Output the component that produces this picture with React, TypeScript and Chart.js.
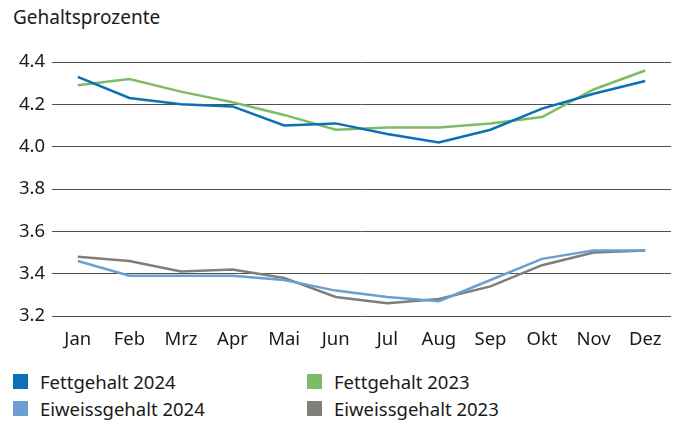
import React, { useEffect, useRef } from "react";
import { Chart, registerables } from "chart.js";

Chart.register(...registerables);

const months = ["Jan", "Feb", "Mrz", "Apr", "Mai", "Jun", "Jul", "Aug", "Sep", "Okt", "Nov", "Dez"];
const fett2024 = [4.33, 4.23, 4.2, 4.19, 4.1, 4.11, 4.06, 4.02, 4.08, 4.18, 4.25, 4.31];
const fett2023 = [4.29, 4.32, 4.26, 4.21, 4.15, 4.08, 4.09, 4.09, 4.11, 4.14, 4.27, 4.36];
const eiweiss2024 = [3.46, 3.39, 3.39, 3.39, 3.37, 3.32, 3.29, 3.27, 3.37, 3.47, 3.51, 3.51];
const eiweiss2023 = [3.48, 3.46, 3.41, 3.42, 3.38, 3.29, 3.26, 3.28, 3.34, 3.44, 3.5, 3.51];
const yTicks = [3.2, 3.4, 3.6, 3.8, 4.0, 4.2, 4.4];

const seriesNames = ["Fettgehalt 2024", "Eiweissgehalt 2024", "Fettgehalt 2023", "Eiweissgehalt 2023"];
const seriesColors = ["#0b70b6", "#6b9fd3", "#7dbb67", "#7f7e78"];

const FONT = "'Noto Sans', 'Liberation Sans', Arial, sans-serif";

export default function App() {
  const ref = useRef<HTMLCanvasElement | null>(null);

  useEffect(() => {
    if (!ref.current) return;
    const data = [fett2024, eiweiss2024, fett2023, eiweiss2023];
    const chart = new Chart(ref.current, {
      type: "line",
      data: {
        labels: months,
        datasets: data.map((d, i) => ({
          label: seriesNames[i],
          data: d,
          borderColor: seriesColors[i],
          backgroundColor: seriesColors[i],
          borderWidth: 2.5,
          pointRadius: 0,
          tension: 0,
          fill: false,
        })),
      },
      options: {
        animation: false,
        responsive: false,
        maintainAspectRatio: false,
        layout: { padding: { left: 0, right: 11, top: 62, bottom: 0 } },
        plugins: {
          legend: { display: false },
          title: { display: false },
          tooltip: { enabled: false },
        },
        scales: {
          x: {
            offset: true,
            grid: { display: false, drawTicks: false },
            border: { display: false },
            ticks: {
              color: "#1a1a1a",
              font: { family: FONT, size: 18.5 },
              padding: 13,
              maxRotation: 0,
              autoSkip: false,
            },
            afterFit: (s: any) => {
              s.height = 44;
            },
          },
          y: {
            min: 3.2,
            max: 4.4,
            afterBuildTicks: (s: any) => {
              s.ticks = yTicks.map((v) => ({ value: v }));
            },
            grid: { color: "#505050", lineWidth: 1, drawTicks: false },
            border: { display: false },
            ticks: {
              color: "#1a1a1a",
              font: { family: FONT, size: 18.5 },
              padding: 7,
              callback: (v: any) => Number(v).toFixed(1),
            },
            afterFit: (s: any) => {
              s.width = 52;
            },
          },
        },
      },
    });
    return () => chart.destroy();
  }, []);

  const legendItem = (i: number, left: number, top: number) => (
    <div
      key={i}
      style={{
        position: "absolute",
        left,
        top,
        height: 15,
        display: "flex",
        alignItems: "center",
        whiteSpace: "nowrap",
      }}
    >
      <div style={{ width: 15, height: 15, background: seriesColors[i], marginRight: 12 }} />
      <span style={{ fontFamily: FONT, fontSize: 18.5, color: "#1a1a1a", lineHeight: "15px" }}>
        {seriesNames[i]}
      </span>
    </div>
  );

  return (
    <div style={{ position: "absolute", left: 0, top: 0, width: 682, height: 423, background: "#fff" }}>
      <div
        style={{
          position: "absolute",
          left: 13,
          top: 4,
          fontFamily: FONT,
          fontSize: 19,
          color: "#1a1a1a",
          whiteSpace: "nowrap",
        }}
      >
        Gehaltsprozente
      </div>
      <canvas ref={ref} width={682} height={360} style={{ position: "absolute", left: 0, top: 0 }} />
      {legendItem(0, 13, 374)}
      {legendItem(2, 307, 374)}
      {legendItem(1, 13, 401)}
      {legendItem(3, 307, 401)}
    </div>
  );
}
